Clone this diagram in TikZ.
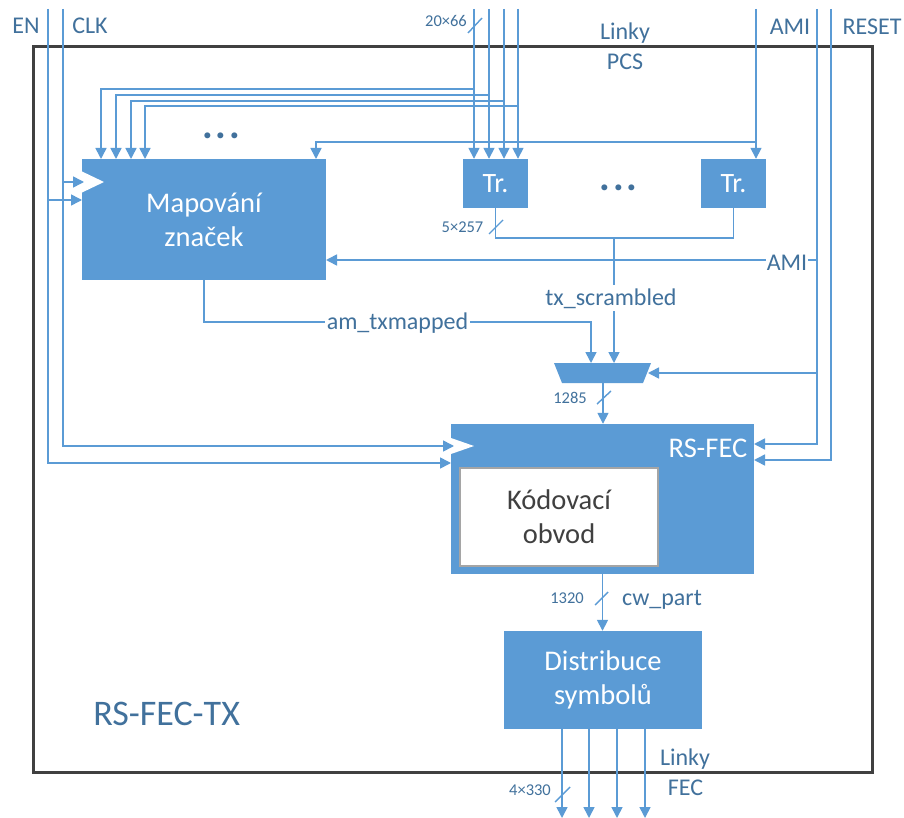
\documentclass[tikz,border=0pt]{standalone}
\usepackage{fontspec}
\setmainfont{Carlito}
\usetikzlibrary{arrows.meta}
\definecolor{fblue}{HTML}{5B9BD5}
\definecolor{tblue}{HTML}{41719C}
\definecolor{framec}{HTML}{404040}
\definecolor{kgray}{HTML}{A5A5A5}
\newcommand{\fsz}[2]{\fontsize{#1}{#2}\selectfont}
\begin{document}
\begin{tikzpicture}[x=1pt,y=-1pt,
 wire/.style={draw=fblue, line width=1.6pt},
 arr/.style={wire, -{Triangle[length=11pt,width=11pt]}},
 blk/.style={fill=fblue, draw=none, inner sep=0pt, text=white, font=\fsz{28.5}{34}, align=center},
 lbl/.style={text=tblue, font=\fsz{24}{28}, inner sep=0pt, anchor=base},
 num/.style={text=tblue, font=\fsz{16.5}{20}, inner sep=0pt, anchor=base},
 dots/.style={text=tblue, font=\fsz{40}{40}\bfseries, inner sep=0pt, anchor=base},
 tick/.style={draw=fblue, line width=1.4pt},
 clockmark/.style={fill=white, draw=none}
]
\useasboundingbox (0,0) rectangle (904,818);
\fill[white] (0,0) rectangle (904,818);
\draw[draw=framec, line width=3pt] (33,46.5) rectangle (872,772);

% blocks
\node[blk, minimum width=244pt, minimum height=121pt] (map) at (204,219.5) {Mapování\\značek};
\node[blk, minimum width=65pt, minimum height=49pt, font=\fsz{28}{34}] (tr1) at (495.5,183.5) {Tr.};
\node[blk, minimum width=65pt, minimum height=49pt, font=\fsz{28}{34}] (tr2) at (733.5,183.5) {Tr.};
\node[blk, minimum width=303pt, minimum height=150pt] (rs) at (602.5,499) {};
\node[text=white, font=\fsz{28.5}{34}, inner sep=0pt, anchor=base] (rslbl) at (708,457) {RS-FEC};
\node[fill=white, draw=kgray, line width=2pt, minimum width=198pt, minimum height=98pt, inner sep=0pt, text=framec, align=center, font=\fsz{28.5}{34}] (kod) at (559,517) {Kódovací\\obvod};
\node[blk, minimum width=198pt, minimum height=98pt] (dist) at (603,680) {Distribuce\\symbolů};

% mux
\coordinate (muxTL) at (554,363);
\coordinate (muxTR) at (651,363);
\coordinate (muxBR) at (643,383);
\coordinate (muxBL) at (562,383);
\fill[fblue] (muxTL) -- (muxTR) -- (muxBR) -- (muxBL) -- cycle;
\coordinate (muxIn1) at (591,363);
\coordinate (muxIn2) at (614,363);
\coordinate (muxSel) at (648,373);
\coordinate (muxOut) at (603,383);

% clock marks
\fill[clockmark] (81,171) -- (104,182) -- (81,193) -- cycle;
\fill[clockmark] (451,438) -- (474,446) -- (451,454) -- cycle;

% top inputs
\coordinate (en) at (48,9);
\coordinate (clk) at (63,9);
\coordinate (b1) at (474,9);
\coordinate (b2) at (489,9);
\coordinate (b3) at (504,9);
\coordinate (b4) at (518,9);
\coordinate (ami) at (756,9);
\coordinate (sel) at (817,9);
\coordinate (rst) at (831,9);

% end points
\coordinate (mapCLK) at (84,182);
\coordinate (mapEN) at (82,200);
\coordinate (rsCLK) at (454,446);
\coordinate (rsEN) at (451,463);
\coordinate (rsSel) at (754,444);
\coordinate (rsRst) at (754,460);
\coordinate (mapAMI) at (326,260);
\coordinate (mapAMItop) at (316,159);
\coordinate (m1) at (101,159);
\coordinate (m2) at (116,159);
\coordinate (m3) at (131,159);
\coordinate (m4) at (145,159);
\coordinate (j1) at (474,89);
\coordinate (j2) at (489,95);
\coordinate (j3) at (504,101);
\coordinate (j4) at (518,106);
\coordinate (jami) at (756,142);
\coordinate (txj) at (614,238);
\coordinate (amc) at (591,322);
\coordinate (o1) at (562,818);
\coordinate (o2) at (589,818);
\coordinate (o3) at (617,818);
\coordinate (o4) at (645,818);

% connectors
\draw[arr] (en) |- (rsEN);
\draw[arr] (en |- mapEN) -- (mapEN);
\draw[arr] (clk) |- (rsCLK);
\draw[arr] (clk |- mapCLK) -- (mapCLK);
\foreach \i in {1,2,3,4}{
  \draw[arr] (b\i) -- (b\i |- tr1.north);
  \draw[arr] (j\i) -| (m\i);
}
\draw[arr] (ami) -- (ami |- tr2.north);
\draw[arr] (jami) -| (mapAMItop);
\draw[arr] (sel) |- (rsSel);
\draw[arr] (sel |- mapAMI) -- (mapAMI);
\draw[arr] (sel |- muxSel) -- (muxSel);
\draw[arr] (rst) |- (rsRst);
\draw[wire] (tr1.south) -- (tr1.south |- txj) -- (tr2.south |- txj) -- (tr2.south);
\draw[arr] (txj) -- (muxIn2);
\draw[arr] (map.south) |- (amc) -- (muxIn1);
\draw[arr] (muxOut) -- (muxOut |- rs.north);
\draw[arr] (rs.south) -- (rs.south |- dist.north);
\foreach \i in {1,2,3,4}{
  \draw[arr] (o\i |- dist.south) -- (o\i);
}

% bus ticks
\draw[tick] (468,33) -- (482,18);
\draw[tick] (489,234) -- (503,220);
\draw[tick] (597,404) -- (611,391);
\draw[tick] (595,605) -- (608,592);
\draw[tick] (555,802) -- (570,787);

% labels
\node[lbl] (lEN) at (26,34) {EN};
\node[lbl] (lCLK) at (90,34) {CLK};
\node[lbl] (lAMI) at (790,35) {AMI};
\node[lbl] (lRST) at (872,35) {RESET};
\node[lbl] (lLinky) at (625,40) {Linky};
\node[lbl] (lPCS) at (625,70) {PCS};
\node[lbl, fill=white, inner sep=1pt] (lAMI2) at (787,270) {AMI};
\node[lbl, fill=white, inner xsep=1pt, inner ysep=3pt] (ltx) at (611,305) {tx\_scrambled};
\node[lbl, fill=white, inner sep=2pt] (lam) at (397.5,329) {am\_txmapped};
\node[lbl] (lcw) at (662,605) {cw\_part};
\node[lbl] (lLinky2) at (685,765) {Linky};
\node[lbl] (lFEC) at (685.5,795) {FEC};
\node[lbl, font=\fsz{36}{40}] (ltitle) at (166.7,725) {RS-FEC-TX};
\node[num] (n1) at (446,27) {20×66};
\node[num] (n2) at (462.5,233) {5×257};
\node[num] (n3) at (570,403) {1285};
\node[num] (n4) at (567,603) {1320};
\node[num] (n5) at (530,795) {4×330};
\node[dots] (d1) at (221,139) {.\kern2.8pt.\kern2.8pt.};
\node[dots] (d2) at (618.5,191) {.\kern2.8pt.\kern2.8pt.};
\end{tikzpicture}
\end{document}
